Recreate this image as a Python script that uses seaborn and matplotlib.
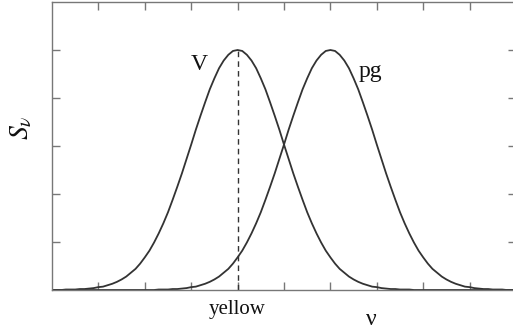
import matplotlib
matplotlib.use("Agg")
import matplotlib.pyplot as plt
import seaborn as sns
import pandas as pd

# Frequency grid (arbitrary units) and flux density of the two passbands
nu = [round(0.1 * i, 1) for i in range(101)]
s_v = [0.00, 0.00, 0.00, 0.01, 0.01, 0.01, 0.02, 0.02, 0.03, 0.04,
       0.06, 0.07, 0.10, 0.13, 0.17, 0.22, 0.28, 0.36, 0.44, 0.55,
       0.68, 0.82, 0.99, 1.18, 1.39, 1.62, 1.88, 2.15, 2.43, 2.73,
       3.03, 3.34, 3.63, 3.91, 4.18, 4.41, 4.62, 4.78, 4.90, 4.98,
       5.00,
       4.98, 4.90, 4.78, 4.62, 4.41, 4.18, 3.91, 3.63, 3.34, 3.03,
       2.73, 2.43, 2.15, 1.88, 1.62, 1.39, 1.18, 0.99, 0.82, 0.68,
       0.55, 0.44, 0.36, 0.28, 0.22, 0.17, 0.13, 0.10, 0.07, 0.06,
       0.04, 0.03, 0.02, 0.02, 0.01, 0.01, 0.01, 0.00, 0.00, 0.00,
       0.00, 0.00, 0.00, 0.00, 0.00, 0.00, 0.00, 0.00, 0.00, 0.00,
       0.00, 0.00, 0.00, 0.00, 0.00, 0.00, 0.00, 0.00, 0.00, 0.00]
s_pg = [0.00, 0.00, 0.00, 0.00, 0.00, 0.00, 0.00, 0.00, 0.00, 0.00,
        0.00, 0.00, 0.00, 0.00, 0.00, 0.00, 0.00, 0.00, 0.00, 0.00,
        0.00, 0.00, 0.00, 0.01, 0.01, 0.01, 0.02, 0.02, 0.03, 0.04,
        0.06, 0.07, 0.10, 0.13, 0.17, 0.22, 0.28, 0.36, 0.44, 0.55,
        0.68, 0.82, 0.99, 1.18, 1.39, 1.62, 1.88, 2.15, 2.43, 2.73,
        3.03, 3.34, 3.63, 3.91, 4.18, 4.41, 4.62, 4.78, 4.90, 4.98,
        5.00,
        4.98, 4.90, 4.78, 4.62, 4.41, 4.18, 3.91, 3.63, 3.34, 3.03,
        2.73, 2.43, 2.15, 1.88, 1.62, 1.39, 1.18, 0.99, 0.82, 0.68,
        0.55, 0.44, 0.36, 0.28, 0.22, 0.17, 0.13, 0.10, 0.07, 0.06,
        0.04, 0.03, 0.02, 0.02, 0.01, 0.01, 0.01, 0.00, 0.00, 0.00]

v_peak_nu = 4.0
v_peak_s = 5.0
curve_labels = ["V", "pg"]
marker_label = "yellow"

df = pd.DataFrame({"nu": nu * 2,
                   "S": s_v + s_pg,
                   "band": ["V"] * len(nu) + ["pg"] * len(nu)})

sns.set_style("ticks")
plt.rcParams["font.family"] = ["Liberation Serif", "DejaVu Serif"]
plt.rcParams["mathtext.fontset"] = "stix"

W, H = 513, 331
fig = plt.figure(figsize=(W / 100, H / 100), dpi=100)
ax = fig.add_axes([52 / W, 41 / H, 464 / W, 288 / H])

line_color = "#333333"
sns.lineplot(data=df, x="nu", y="S", hue="band", palette=[line_color, line_color],
             legend=False, linewidth=1.3, ax=ax)

ax.vlines(v_peak_nu, 0, v_peak_s, colors=line_color, linestyles=(0, (4, 3)), linewidth=1.0)

ax.set_xlim(0, 10)
ax.set_ylim(0, 6)
ax.set_xticks(range(1, 10))
ax.set_yticks(range(1, 6))
ax.tick_params(axis="both", which="both", direction="in", length=6, width=1.0,
               color="#777777", top=True, right=True,
               labelbottom=False, labelleft=False)
for sp in ax.spines.values():
    sp.set_color("#777777")
    sp.set_linewidth(1.0)
ax.set_xlabel("")
ax.set_ylabel("")

txt = "#111111"


def fig_text(x, y, s, **kw):
    fig.text(x / W, 1 - y / H, s, color=txt, **kw)


fig_text(199, 70, curve_labels[0], fontsize=17, ha="center", va="baseline")
fig_text(370, 77, curve_labels[1], fontsize=17, ha="center", va="baseline")
fig_text(237, 314, marker_label, fontsize=15, ha="center", va="baseline")
fig_text(371, 325, "ν", fontsize=17, ha="center", va="baseline")
fig_text(22, 128, "$S_\\nu$", fontsize=20, ha="center", va="center", rotation=90)

fig.savefig("out.png", dpi=100, facecolor="white")
